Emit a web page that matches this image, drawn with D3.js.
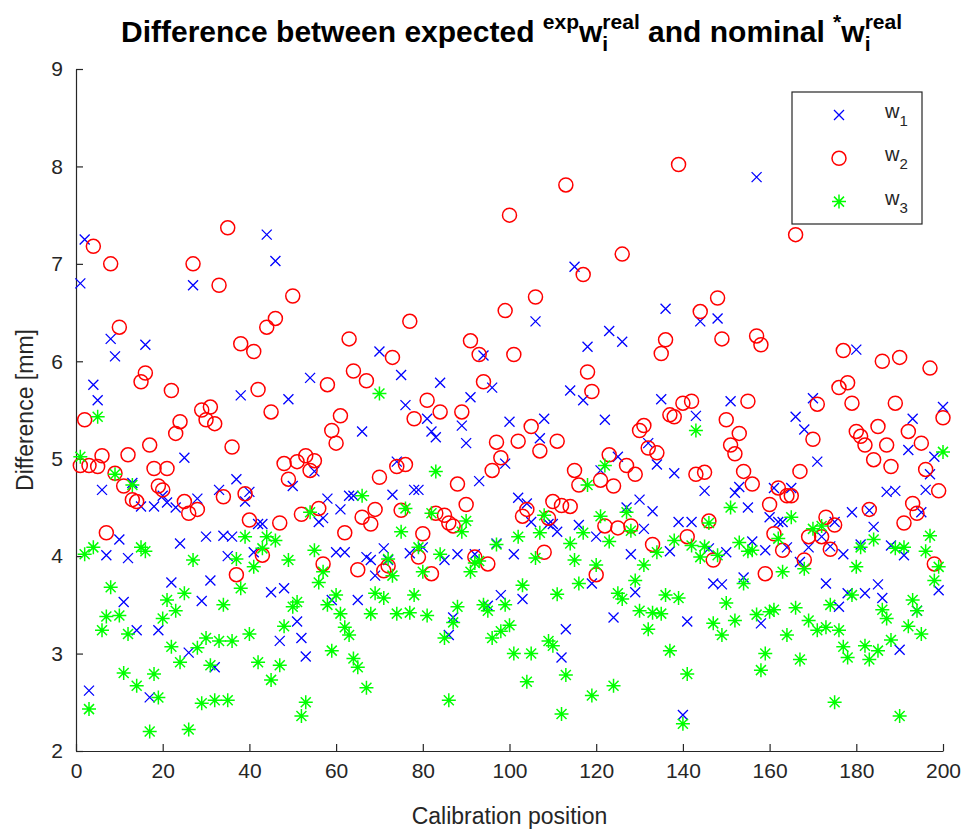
<!DOCTYPE html>
<html><head><meta charset="utf-8">
<script src="https://cdn.jsdelivr.net/npm/d3@7/dist/d3.min.js"></script>
<style>body{margin:0;background:#fff}svg{display:block}text{font-family:"Liberation Sans",Arial,sans-serif}</style>
</head><body><svg id="c" width="968" height="833"></svg>
<script>
const positions = d3.range(1, 201);
const w1 = [6.80,7.25,2.62,5.76,5.60,4.68,4.01,6.23,6.05,4.17,3.53,3.98,4.75,3.24,4.51,6.17,2.55,4.51,3.24,4.62,
4.55,3.73,4.50,4.13,5.01,3.01,6.78,4.59,3.54,4.20,3.75,2.86,4.68,4.21,4.00,4.20,4.79,5.65,4.56,4.66,
4.04,4.33,4.33,7.30,3.63,7.03,3.13,3.67,5.61,4.72,3.33,3.16,2.97,5.83,4.87,4.35,4.39,4.59,3.55,4.04,
4.48,4.04,4.62,4.62,3.55,5.28,3.99,3.96,3.80,6.10,4.08,3.96,4.63,4.97,5.86,5.55,4.03,4.68,4.68,4.09,
5.41,5.28,5.22,5.78,3.96,3.19,3.37,4.02,5.34,5.16,5.63,4.02,4.77,6.06,3.49,5.73,4.13,3.60,4.95,5.38,
4.02,4.60,3.56,4.54,4.35,6.41,5.21,5.41,4.33,4.33,4.25,2.96,3.25,5.70,6.97,4.32,5.60,6.15,3.72,4.20,
4.88,5.40,6.31,3.37,5.02,6.20,4.50,4.02,3.63,4.58,4.28,5.16,4.46,4.94,5.61,6.54,4.05,4.85,4.35,2.37,
3.33,4.35,5.44,6.41,4.67,4.08,3.72,6.44,3.71,4.04,5.59,4.65,4.71,3.78,4.50,4.15,7.89,3.31,4.06,4.40,
4.70,4.35,4.35,4.09,4.70,5.43,3.94,5.30,4.09,5.62,4.97,4.20,3.72,4.10,4.35,3.48,4.02,3.62,4.45,6.12,
4.12,3.62,4.47,4.30,3.71,3.57,4.66,4.11,4.67,3.04,4.01,5.09,5.41,3.44,4.45,4.68,4.84,5.02,3.65,5.53];
const w2 = [4.93,5.40,4.93,7.18,4.92,5.03,4.24,7.00,4.85,6.35,4.72,5.04,4.58,4.56,5.79,5.88,5.14,4.90,4.72,4.68,
4.90,5.70,5.26,5.38,4.56,4.44,7.00,4.48,5.50,5.40,5.53,5.36,6.78,4.61,7.37,5.12,3.81,6.18,4.64,4.37,
6.10,5.71,4.01,6.35,5.48,6.44,4.34,4.95,4.79,6.67,4.97,4.43,5.03,4.88,4.98,4.49,3.92,5.76,5.29,5.16,
5.44,4.24,6.23,5.90,3.86,4.40,5.80,4.33,4.48,4.81,3.85,3.90,6.04,4.92,4.47,4.94,6.41,5.41,3.99,4.23,
5.60,3.82,4.44,5.48,4.42,4.34,4.31,4.74,5.48,4.53,6.21,3.99,6.07,5.79,3.92,4.88,5.17,5.01,6.52,7.50,
6.07,5.18,4.41,4.48,5.33,6.66,5.08,4.04,4.39,4.56,5.18,4.52,7.81,4.51,4.88,4.73,6.89,5.89,5.69,3.81,
4.78,4.31,5.04,4.72,4.29,7.10,4.93,4.31,4.84,5.29,5.34,5.11,4.12,5.06,6.08,6.22,5.45,5.43,8.02,5.57,
4.20,5.59,4.84,6.51,4.86,4.36,3.96,6.65,6.23,5.40,5.14,5.05,5.26,4.87,5.59,4.74,6.26,6.17,3.82,4.53,
4.23,4.70,4.06,4.62,4.62,7.30,4.87,3.96,4.20,5.20,5.56,4.20,4.40,4.07,4.32,5.73,6.11,5.78,5.57,5.28,
5.23,5.14,4.48,4.99,5.33,6.00,5.14,4.92,5.57,6.04,4.34,5.28,4.54,4.44,5.16,4.89,5.93,3.92,4.67,5.42];
const w3 = [5.02,4.02,2.43,4.09,5.43,3.24,3.38,3.68,4.84,3.39,2.80,3.20,4.73,2.67,4.09,4.05,2.20,2.79,2.55,3.36,
3.55,3.07,3.44,2.91,3.62,2.22,3.96,3.06,2.49,3.16,2.88,2.52,3.13,3.50,2.52,3.13,3.97,3.67,4.20,3.20,
3.89,2.91,4.08,4.20,2.73,4.16,2.88,3.28,3.96,3.48,3.53,2.36,2.50,4.45,4.06,3.73,3.84,3.50,3.03,3.60,
3.41,3.27,3.19,2.95,2.86,4.62,2.65,3.41,3.62,5.67,3.57,3.97,3.80,3.41,4.25,4.49,3.42,3.60,4.09,3.84,
3.39,4.44,4.87,4.02,3.16,2.52,3.32,3.48,4.25,4.36,3.84,3.93,3.95,3.50,3.44,3.16,4.12,3.23,3.50,3.29,
3.00,4.20,3.70,2.71,3.00,3.98,4.24,4.42,3.13,3.08,3.61,2.38,2.78,4.13,3.96,3.72,4.24,4.73,2.57,3.91,
4.41,4.93,4.15,2.67,3.62,3.56,4.45,4.26,3.75,3.44,3.91,3.25,3.42,4.04,3.41,3.60,3.03,4.16,3.57,2.28,
2.79,4.11,5.29,3.99,4.10,4.34,3.31,4.01,3.19,3.52,4.50,3.34,4.14,3.72,4.05,4.06,3.40,2.83,3.00,3.43,
3.45,4.18,3.84,3.19,4.40,3.47,2.94,3.87,3.34,4.28,3.24,4.31,3.27,3.50,2.50,3.24,3.07,2.96,3.60,3.89,
4.09,3.08,2.94,4.17,3.03,3.45,3.36,3.14,4.08,2.36,4.09,3.28,3.55,3.44,3.20,4.05,4.21,3.75,3.89,5.07];
const seriesNames = ["1","2","3"];
const seriesColors = ["#0000ff","#ff0000","#00ff00"];
const xTicks = [0,20,40,60,80,100,120,140,160,180,200];
const yTicks = [2,3,4,5,6,7,8,9];

const svg = d3.select("#c");
const L=76, R=943, T=69, B=751;
const x = d3.scaleLinear().domain([0,200]).range([L,R]);
const y = d3.scaleLinear().domain([2,9]).range([B,T]);
const axCol = "#262626";

// axes
const gx = svg.append("g").attr("transform",`translate(0,${B})`)
  .call(d3.axisBottom(x).tickValues(xTicks).tickFormat(d3.format("d")).tickSizeInner(-7).tickSizeOuter(0).tickPadding(12));
const gy = svg.append("g").attr("transform",`translate(${L},0)`)
  .call(d3.axisLeft(y).tickValues(yTicks).tickFormat(d3.format("d")).tickSizeInner(-7).tickSizeOuter(0).tickPadding(13));
[gx,gy].forEach(g=>{
  g.select(".domain").attr("stroke",axCol).attr("stroke-width",1.2);
  g.selectAll(".tick line").attr("stroke",axCol).attr("stroke-width",1.2);
  g.selectAll(".tick text").attr("fill",axCol).attr("font-size",21).attr("font-family","Liberation Sans, Arial, sans-serif");
});

// markers
const markers = [
  {data:w1, path:"M-5,-5L5,5M-5,5L5,-5", col:seriesColors[0], sw:1.3, type:"path"},
  {data:w2, col:seriesColors[1], sw:1.5, type:"circle"},
  {data:w3, path:"M-7,0H7M0,-7V7M-5,-5L5,5M-5,5L5,-5", col:seriesColors[2], sw:1.5, type:"path"}
];
markers.forEach(m=>{
  const g = svg.append("g");
  const pts = positions.map((p,i)=>({p, v:m.data[i]}));
  if(m.type==="circle"){
    g.selectAll("circle").data(pts).join("circle")
      .attr("cx",d=>x(d.p)).attr("cy",d=>y(d.v)).attr("r",7)
      .attr("fill","none").attr("stroke",m.col).attr("stroke-width",m.sw);
  } else {
    g.selectAll("path").data(pts).join("path")
      .attr("transform",d=>`translate(${x(d.p)},${y(d.v)})`)
      .attr("d",m.path).attr("fill","none").attr("stroke",m.col).attr("stroke-width",m.sw);
  }
});

// axis labels
svg.append("text").attr("x",(L+R)/2).attr("y",824).attr("text-anchor","middle")
  .attr("font-size",23).attr("fill",axCol).text("Calibration position");
svg.append("text").attr("transform",`translate(33,${(T+B)/2}) rotate(-90)`).attr("text-anchor","middle")
  .attr("font-size",23).attr("fill",axCol).text("Difference [mm]");

// title with super/subscripts
const tg = svg.append("g").attr("font-weight","bold").attr("fill","#000");
const base = 42, big = 30, small = 21;
const pieces = [
  {t:"Difference between expected ", s:big, dy:0},
  {t:"exp", s:small, dy:-13},
  {t:"w", s:big, dy:0},
  {stack:[{t:"i", s:small, dy:9},{t:"real", s:small, dy:-13}]},
  {t:" and nominal ", s:big, dy:0},
  {t:"*", s:small, dy:-13},
  {t:"w", s:big, dy:0},
  {stack:[{t:"i", s:small, dy:9},{t:"real", s:small, dy:-13}]}
];
let cx = 0;
pieces.forEach(p=>{
  const items = p.stack || [p];
  let wmax = 0;
  items.forEach(it=>{
    const te = tg.append("text").attr("x",cx).attr("y",base+it.dy).attr("font-size",it.s)
      .attr("xml:space","preserve").style("white-space","pre").text(it.t);
    wmax = Math.max(wmax, te.node().getComputedTextLength());
  });
  cx += wmax;
});
tg.attr("transform",`translate(${(L+R)/2 + 2 - cx/2},0)`);

// legend
const lg = svg.append("g");
lg.append("rect").attr("x",792).attr("y",92).attr("width",130).attr("height",132)
  .attr("fill","#fff").attr("stroke",axCol).attr("stroke-width",1.2);
markers.forEach((m,i)=>{
  const cy = 115 + i*43.3, mx = 839;
  if(m.type==="circle") lg.append("circle").attr("cx",mx).attr("cy",cy).attr("r",7).attr("fill","none").attr("stroke",m.col).attr("stroke-width",m.sw);
  else lg.append("path").attr("transform",`translate(${mx},${cy})`).attr("d",m.path).attr("fill","none").attr("stroke",m.col).attr("stroke-width",m.sw);
  const t = lg.append("text").attr("x",885).attr("y",cy+3).attr("font-size",20).attr("fill",axCol);
  t.append("tspan").text("w");
  t.append("tspan").attr("dy",8).attr("font-size",15).text(seriesNames[i]);
});
</script></body></html>
